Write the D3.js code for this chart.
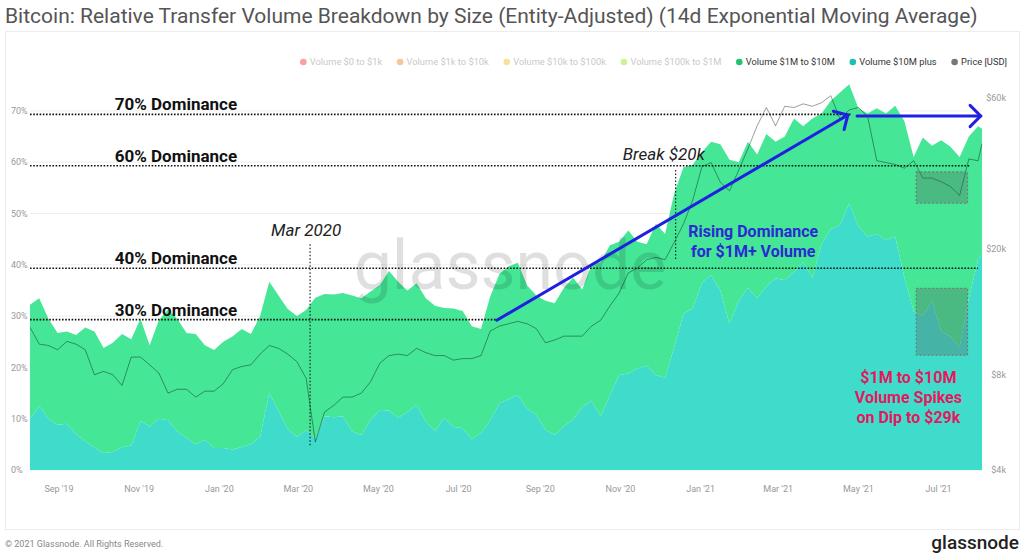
<!DOCTYPE html>
<html>
<head>
<meta charset="utf-8">
<script src="https://cdn.jsdelivr.net/npm/d3@7"></script>
<style>
  body { margin: 0; background: #fff; }
  svg { display: block; font-family: Roboto, "Noto Sans", sans-serif; }
</style>
</head>
<body>
<svg id="chart" width="1024" height="560"></svg>
<script>
// weekly samples from 10 Aug 2019, last sample on 3 Aug 2021
const startDate = new Date(2019, 7, 10);
const endDate = new Date(2021, 7, 3);

// share of transfer volume (%), 14d EMA
const share10mPlus = [
  10.0, 12.5, 10.0, 8.8, 9.0, 7.0, 5.6, 4.4, 3.3, 3.5,
  4.5, 4.8, 9.5, 8.5, 10.0, 9.7, 7.5, 6.3, 5.0, 5.9,
  4.3, 4.3, 4.0, 4.5, 5.0, 6.5, 15.0, 11.5, 8.0, 6.5,
  7.8, 6.2, 10.5, 10.3, 10.5, 7.5, 6.8, 9.8, 11.7, 11.6,
  10.2, 11.3, 12.7, 9.5, 7.6, 10.2, 8.4, 8.2, 6.0, 7.2,
  9.7, 13.0, 13.8, 14.6, 12.0, 10.8, 7.8, 6.8, 8.6, 9.8,
  12.3, 13.5, 10.5, 14.5, 18.5, 18.8, 19.8, 20.3, 18.5, 18.0,
  24.0, 30.5, 31.5, 36.5, 38.0, 35.0, 28.5, 33.0, 35.5, 33.5,
  35.8, 37.4, 37.0, 38.6, 40.5, 37.5, 44.0, 47.0, 47.8, 52.0,
  47.5, 45.5, 46.0, 44.8, 45.5, 37.5, 31.0, 30.0, 33.0, 27.0,
  26.0, 24.0, 33.5, 41.0, 42.0
];
const share1mTo10m = [
  22.2, 21.0, 19.5, 17.9, 18.0, 19.3, 22.2, 22.6, 20.5, 21.3,
  22.0, 20.7, 20.0, 15.8, 19.2, 21.6, 22.0, 20.4, 21.5, 18.4,
  19.1, 20.7, 22.0, 23.0, 21.5, 23.5, 21.7, 22.5, 23.4, 23.5,
  23.4, 27.4, 23.8, 23.9, 24.0, 26.5, 26.7, 25.0, 24.3, 27.2,
  26.5, 23.7, 23.7, 24.0, 24.4, 21.4, 23.1, 22.8, 22.0, 20.3,
  24.1, 25.2, 25.9, 25.8, 24.0, 23.2, 25.2, 25.7, 26.9, 27.7,
  22.9, 26.5, 30.0, 29.3, 26.0, 27.9, 24.7, 23.7, 29.5, 28.0,
  30.0, 28.5, 28.0, 25.5, 26.0, 28.5, 32.0, 27.0, 28.5, 28.0,
  29.7, 26.6, 28.0, 29.9, 26.5, 31.0, 25.5, 25.0, 25.8, 23.2,
  23.0, 24.0, 24.5, 24.7, 25.5, 30.5, 30.0, 34.8, 30.2, 37.3,
  37.0, 37.0, 31.5, 26.0, 24.5
];
// BTC price in $k
const priceK = [
  11.3, 10.0, 9.9, 9.6, 10.2, 10.0, 9.6, 8.0, 8.2, 8.0,
  7.4, 9.1, 9.1, 8.6, 8.1, 7.0, 7.2, 7.2, 6.8, 7.1,
  7.1, 7.5, 8.3, 8.5, 8.6, 9.3, 9.9, 9.7, 9.3, 8.8,
  7.8, 4.9, 6.1, 6.4, 6.8, 6.8, 7.0, 7.6, 8.7, 9.2,
  9.3, 9.2, 9.7, 9.4, 9.2, 9.2, 8.9, 9.0, 9.0, 9.2,
  11.0, 11.4, 11.6, 11.8, 11.6, 11.2, 10.1, 10.3, 10.6, 10.6,
  10.6, 11.4, 11.9, 13.2, 14.5, 16.8, 17.4, 18.5, 18.8, 18.5,
  21.0, 24.0, 28.5, 36.4, 37.5, 32.5, 30.5, 35.5, 41.5, 49.0,
  56.0, 49.0, 56.5, 56.0, 57.5, 56.5, 58.0, 61.0, 51.5, 55.0,
  56.0, 52.5, 38.0, 37.5, 37.0, 36.0, 38.0, 33.5, 33.5, 32.6,
  31.5, 29.5, 38.5, 38.0, 43.0
];

const pctTicks = [0, 10, 20, 30, 40, 50, 60, 70];
const priceTicks = [4000, 8000, 20000, 60000];
const priceTickLabels = ["$4k", "$8k", "$20k", "$60k"];

const legendItems = [
  { name: "Volume $0 to $1k", color: "#f4525a", active: false },
  { name: "Volume $1k to $10k", color: "#f7953b", active: false },
  { name: "Volume $10k to $100k", color: "#f6c83c", active: false },
  { name: "Volume $100k to $1M", color: "#a5e640", active: false },
  { name: "Volume $1M to $10M", color: "#20c46e", active: true },
  { name: "Volume $10M plus", color: "#1fbfb0", active: true },
  { name: "Price [USD]", color: "#777", active: true }
];

// annotation levels
const dominance = [
  { level: 70, to: new Date(2021, 3, 25) },
  { level: 60, to: new Date(2021, 6, 25) },
  { level: 40, to: new Date(2021, 6, 31) },
  { level: 30, to: new Date(2020, 6, 30) }
];
const labelDate = new Date(2019, 10, 29);

const svg = d3.select("#chart");

const x = d3.scaleTime().domain([startDate, endDate]).range([30, 982]);
const y = d3.scaleLinear().domain([0, 80]).range([470, 59.6]);
const yPrice = d3.scaleLog().domain([4000, 60000]).range([470, 98]);

const rows = priceK.map((p, i) => ({
  date: i < priceK.length - 1 ? d3.timeDay.offset(startDate, 7 * i) : endDate,
  big: share10mPlus[i],
  mid: share1mTo10m[i],
  price: p * 1000
}));

// title
svg.append("text")
  .attr("x", 5).attr("y", 23)
  .attr("font-size", 21)
  .attr("fill", "#555")
  .text("Bitcoin: Relative Transfer Volume Breakdown by Size (Entity-Adjusted) (14d Exponential Moving Average)");

// frame
svg.append("rect")
  .attr("x", 5.5).attr("y", 31.5)
  .attr("width", 1014).attr("height", 498)
  .attr("fill", "none").attr("stroke", "#ececec");

// legend, right aligned
const legend = svg.append("g");
const items = legend.selectAll("g").data(legendItems).join("g");
items.append("circle")
  .attr("r", 3.3)
  .attr("fill", d => d.color)
  .attr("opacity", d => d.active ? 1 : 0.55);
items.append("text")
  .attr("x", 6.5).attr("dy", "0.35em")
  .attr("font-size", 9.3)
  .attr("fill", d => d.active ? "#333" : "#c9c9c9")
  .text(d => d.name);
const widths = [];
items.select("text").each(function () { widths.push(this.getComputedTextLength()); });
const total = d3.sum(widths, w => w + 6.5) + 18 * (widths.length - 1);
let lx = 1007 - total;
items.attr("transform", (d, i) => {
  const t = `translate(${lx},62)`;
  lx += 6.5 + widths[i] + 18;
  return t;
});

// grid
svg.append("g").selectAll("line").data(pctTicks).join("line")
  .attr("x1", 30).attr("x2", 982)
  .attr("y1", d => y(d)).attr("y2", d => y(d))
  .attr("stroke", "#eeeeee");

// stacked areas
const layers = d3.stack().keys(["big", "mid"])(rows);
const area = d3.area()
  .x(d => x(d.data.date))
  .y0(d => y(d[0]))
  .y1(d => y(d[1]));
const areaColors = { big: "#40dccb", mid: "#45e696" };
svg.append("g").selectAll("path").data(layers).join("path")
  .attr("d", area)
  .attr("fill", d => areaColors[d.key]);

// watermark
svg.append("text")
  .attr("x", 510).attr("y", 289)
  .attr("text-anchor", "middle")
  .attr("font-size", 68)
  .attr("fill", "#000").attr("opacity", 0.12)
  .text("glassnode");

// price line
svg.append("path")
  .datum(rows)
  .attr("d", d3.line().x(d => x(d.date)).y(d => yPrice(d.price)))
  .attr("fill", "none")
  .attr("stroke", "#000")
  .attr("stroke-opacity", 0.38)
  .attr("stroke-width", 1);

// left axis labels
svg.append("g").selectAll("text").data(pctTicks).join("text")
  .attr("x", 11).attr("y", d => y(d)).attr("dy", "0.35em")
  .attr("font-size", 9).attr("fill", "#999")
  .text(d => d + "%");

// right axis labels
svg.append("g").selectAll("text").data(priceTicks).join("text")
  .attr("x", 1006).attr("y", d => yPrice(d)).attr("dy", "0.35em")
  .attr("text-anchor", "end")
  .attr("font-size", 9).attr("fill", "#999")
  .text((d, i) => priceTickLabels[i]);

// x axis labels
svg.append("g").selectAll("text").data(x.ticks(d3.timeMonth.every(2))).join("text")
  .attr("x", d => x(d)).attr("y", 489).attr("dy", "0.35em")
  .attr("text-anchor", "middle")
  .attr("font-size", 9).attr("fill", "#999")
  .text(d3.timeFormat("%b '%y"));

// ---- annotations ----
const ann = svg.append("g");

// shaded boxes around the dip
const boxes = [
  { from: new Date(2021, 5, 14), to: new Date(2021, 6, 23), lo: 52.0, hi: 58.1 },
  { from: new Date(2021, 5, 14), to: new Date(2021, 6, 23), lo: 22.4, hi: 35.4 }
];
ann.selectAll("rect").data(boxes).join("rect")
  .attr("x", d => x(d.from)).attr("y", d => y(d.hi))
  .attr("width", d => x(d.to) - x(d.from))
  .attr("height", d => y(d.lo) - y(d.hi))
  .attr("fill", "#555").attr("fill-opacity", 0.3)
  .attr("stroke", "#777").attr("stroke-width", 1.2)
  .attr("stroke-dasharray", "2,2");

// dominance dotted lines + labels
ann.selectAll("line.dom").data(dominance).join("line")
  .attr("class", "dom")
  .attr("x1", x(startDate)).attr("x2", d => x(d.to))
  .attr("y1", d => y(d.level) + 3.5).attr("y2", d => y(d.level) + 3.5)
  .attr("stroke", "#111").attr("stroke-width", 1.6)
  .attr("stroke-dasharray", "1.6,1.6");
ann.selectAll("text.dom").data(dominance).join("text")
  .attr("class", "dom")
  .attr("x", x(labelDate)).attr("y", d => y(d.level) - 0.5)
  .attr("text-anchor", "middle")
  .attr("font-size", 17).attr("font-weight", 700).attr("fill", "#111")
  .text(d => d.level + "% Dominance");

// event markers
const events = [
  { label: "Mar 2020", date: new Date(2020, 2, 10), labelDate: new Date(2020, 2, 7), labelAt: 45.6, top: 44.0, bottom: 4.5 },
  { label: "Break $20k", date: new Date(2020, 11, 13), labelDate: new Date(2020, 11, 4), labelAt: 60.5, top: 58.5, bottom: 40.9 }
];
ann.selectAll("line.evt").data(events).join("line")
  .attr("class", "evt")
  .attr("x1", d => x(d.date)).attr("x2", d => x(d.date))
  .attr("y1", d => y(d.top)).attr("y2", d => y(d.bottom))
  .attr("stroke", "#222").attr("stroke-width", 1.2)
  .attr("stroke-dasharray", "1.5,2");
ann.selectAll("text.evt").data(events).join("text")
  .attr("class", "evt")
  .attr("x", d => x(d.labelDate)).attr("y", d => y(d.labelAt))
  .attr("text-anchor", "middle")
  .attr("font-size", 17).attr("font-style", "italic").attr("fill", "#222")
  .text(d => d.label);

// blue arrows
function arrow(x1, y1, x2, y2) {
  const a = Math.atan2(y2 - y1, x2 - x1);
  const len = 15, spread = Math.PI / 4;
  const g = ann.append("g")
    .attr("stroke", "#2020e0").attr("stroke-width", 3)
    .attr("stroke-linecap", "round").attr("fill", "none");
  g.append("line").attr("x1", x1).attr("y1", y1).attr("x2", x2).attr("y2", y2);
  g.append("path").attr("d",
    `M${x2 - len * Math.cos(a - spread)},${y2 - len * Math.sin(a - spread)}` +
    `L${x2},${y2}` +
    `L${x2 - len * Math.cos(a + spread)},${y2 - len * Math.sin(a + spread)}`);
}
arrow(x(new Date(2020, 6, 30)), y(29.2), x(new Date(2021, 3, 23)), y(69.2));
arrow(x(new Date(2021, 3, 30)), y(69.0), x(new Date(2021, 7, 2)), y(69.0));

// text notes
const notes = [
  { lines: ["Rising Dominance", "for $1M+ Volume"], date: new Date(2021, 1, 10), at: [45.5, 41.6], color: "#2a2ad4" },
  { lines: ["$1M to $10M", "Volume Spikes", "on Dip to $29k"], date: new Date(2021, 5, 8), at: [17.0, 13.1, 9.1], color: "#e3195f" }
];
notes.forEach(n => {
  ann.append("g").selectAll("text").data(n.lines).join("text")
    .attr("x", x(n.date)).attr("y", (d, i) => y(n.at[i]))
    .attr("text-anchor", "middle")
    .attr("font-size", 16).attr("font-weight", 700)
    .attr("fill", n.color)
    .text(d => d);
});

// footer
svg.append("text")
  .attr("x", 5).attr("y", 547)
  .attr("font-size", 9).attr("fill", "#888")
  .text("© 2021 Glassnode. All Rights Reserved.");
svg.append("text")
  .attr("x", 1019).attr("y", 549)
  .attr("text-anchor", "end")
  .attr("font-size", 19).attr("font-weight", 500).attr("fill", "#222")
  .text("glassnode");
</script>
</body>
</html>
